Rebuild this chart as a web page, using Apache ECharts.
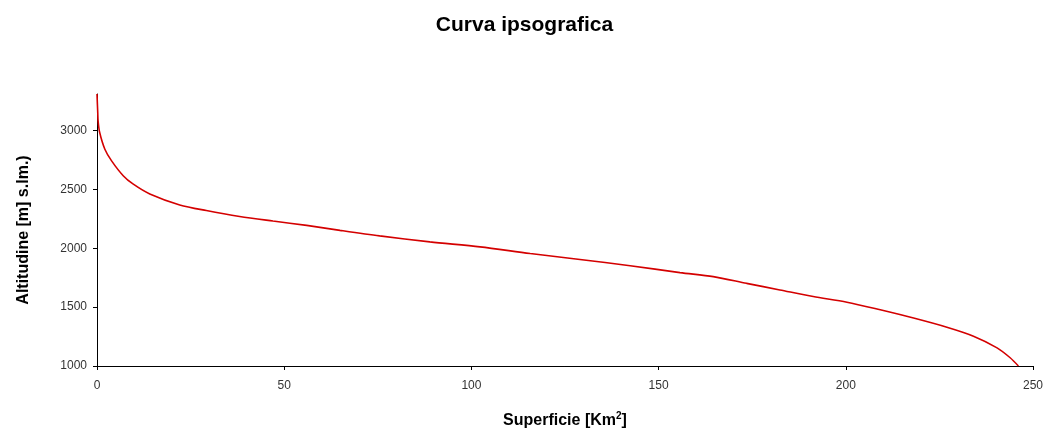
<!DOCTYPE html>
<html>
<head>
<meta charset="utf-8">
<script src="https://cdn.jsdelivr.net/npm/echarts@6/dist/echarts.min.js"></script>
<style>
  html, body { margin: 0; padding: 0; background: #fff; }
  #chart { width: 1049px; height: 434px; }
</style>
</head>
<body>
<div id="chart"></div>
<script>
// superficie cumulata [Km2]
const superficie = [0, 0.2, 0.3, 0.7, 2.1, 3.9, 7, 9.6, 14.1, 22.1, 29.2, 38.1, 47, 56, 64.9,
  75.5, 88.9, 102.3, 115.7, 129, 142.4, 155.7, 164.6, 173.5, 182.4, 191.3, 200.3,
  209.2, 218.1, 227, 234.1, 240.4, 243.9, 246.1];
// altitudine [m s.l.m.]
const altitudine = [3310, 3150, 3080, 2985, 2841, 2742, 2616, 2546, 2461, 2368, 2320, 2270, 2231, 2194, 2152,
  2105, 2054, 2012, 1955, 1905, 1852, 1793, 1759, 1702, 1646, 1590, 1542,
  1477, 1407, 1329, 1253, 1154, 1070, 1000];
const yTicks = [1000, 1500, 2000, 2500, 3000];

const chart = echarts.init(document.getElementById("chart"), null, { renderer: "canvas" });
const labelFont = { color: "#333", fontSize: 12, fontFamily: "Liberation Sans" };
const nameFont = { fontFamily: "Liberation Sans", fontWeight: "bold", fontSize: 16, color: "#000" };

chart.setOption({
  animation: false,
  title: {
    text: "Curva ipsografica",
    left: "center",
    top: 10,
    textStyle: { fontFamily: "Liberation Sans", fontWeight: "bold", fontSize: 21, color: "#000" },
  },
  grid: { left: 97, right: 16, top: 94, bottom: 66 },
  xAxis: {
    type: "value",
    min: 0,
    max: 250,
    interval: 50,
    name: "Superficie [Km{sup|2}]",
    nameLocation: "middle",
    nameGap: 45,
    nameTextStyle: {
      ...nameFont,
      rich: { sup: { ...nameFont, fontSize: 10, verticalAlign: "top", padding: [0, 0, 10, 0] } },
    },
    axisLine: { show: true, lineStyle: { color: "#000", width: 1 } },
    axisTick: { show: true, length: 4, lineStyle: { color: "#000" } },
    axisLabel: { ...labelFont, margin: 14, formatter: (v) => String(v) },
    splitLine: { show: false },
  },
  yAxis: {
    type: "value",
    min: 1000,
    max: 3310,
    name: "Altitudine [m] s.lm.)",
    nameLocation: "middle",
    nameGap: 65,
    nameTextStyle: nameFont,
    axisLine: { show: true, lineStyle: { color: "#000", width: 1 } },
    axisTick: { show: true, length: 4, customValues: yTicks, lineStyle: { color: "#000" } },
    axisLabel: { ...labelFont, margin: 10, customValues: yTicks, formatter: (v) => String(v) },
    splitLine: { show: false },
  },
  series: [
    {
      type: "line",
      data: superficie.map((v, i) => [v, altitudine[i]]),
      showSymbol: false,
      smooth: 0.3,
      lineStyle: { color: "#d40000", width: 1.6 },
      itemStyle: { color: "#d40000" },
    },
  ],
});
</script>
</body>
</html>
